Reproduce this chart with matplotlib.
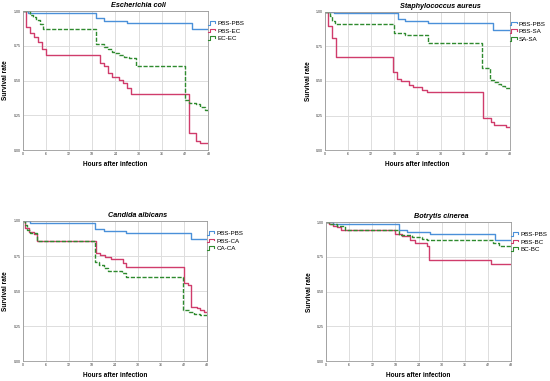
import numpy as np
import matplotlib.pyplot as plt
from matplotlib.legend_handler import HandlerBase
from matplotlib.lines import Line2D

plt.rcParams['font.family'] = ['Liberation Sans', 'DejaVu Sans']

# hours / survival
titles = ["Escherichia coli", "Staphylococcus aureus", "Candida albicans", "Botrytis cinerea"]
labels = [["PBS-PBS", "PBS-EC", "EC-EC"],
          ["PBS-PBS", "PBS-SA", "SA-SA"],
          ["PBS-PBS", "PBS-CA", "CA-CA"],
          ["PBS-PBS", "PBS-BC", "BC-BC"]]

# E. coli
ec_pbs_t = [0, 1.5, 19.0, 21.0, 27.0, 43.8, 48]
ec_pbs_s = [1.0, 0.985, 0.947, 0.93, 0.916, 0.873, 0.873]
ec_red_t = [0, 1.0, 2.0, 3.0, 4.0, 5.0, 6.0, 20.0, 21.0, 22.0, 23.0, 25.0, 26.0, 27.0, 28.0, 43.0, 44.8, 45.8, 48]
ec_red_s = [1.0, 0.887, 0.844, 0.815, 0.78, 0.724, 0.683, 0.628, 0.604, 0.556, 0.523, 0.504, 0.48, 0.444, 0.40, 0.12, 0.065, 0.05, 0.05]
ec_grn_t = [0, 2.0, 2.8, 3.6, 4.4, 5.3, 19.0, 21.0, 22.0, 23.0, 24.0, 25.0, 26.2, 27.5, 29.2, 41.9, 43.1, 44.8, 45.8, 47.0, 48]
ec_grn_s = [1.0, 0.971, 0.954, 0.935, 0.904, 0.868, 0.76, 0.743, 0.724, 0.707, 0.695, 0.683, 0.671, 0.66, 0.608, 0.36, 0.34, 0.33, 0.31, 0.29, 0.278]

# S. aureus
sa_pbs_t = [0, 2.2, 18.9, 20.8, 26.8, 43.7, 48]
sa_pbs_s = [1.0, 0.988, 0.949, 0.932, 0.92, 0.872, 0.872]
sa_red_t = [0, 0.7, 1.9, 2.9, 17.7, 18.6, 19.7, 21.9, 22.9, 25.1, 26.4, 41.0, 43.1, 43.9, 47.1, 48]
sa_red_s = [1.0, 0.90, 0.81, 0.673, 0.562, 0.513, 0.50, 0.472, 0.453, 0.436, 0.419, 0.23, 0.206, 0.182, 0.17, 0.17]
sa_grn_t = [0, 1.3, 1.9, 2.6, 17.9, 20.8, 26.8, 40.8, 42.8, 43.9, 44.8, 45.8, 46.7, 48]
sa_grn_s = [1.0, 0.969, 0.932, 0.915, 0.847, 0.835, 0.775, 0.593, 0.508, 0.496, 0.479, 0.465, 0.448, 0.44]

# C. albicans
ca_pbs_t = [0, 2.0, 18.9, 21.1, 27.0, 43.8, 48]
ca_pbs_s = [1.0, 0.983, 0.94, 0.926, 0.914, 0.871, 0.871]
ca_red_t = [0, 0.7, 1.6, 2.9, 3.7, 19.1, 20.2, 21.3, 23.1, 26.1, 27.0, 41.9, 43.1, 43.8, 45.2, 46.1, 47.1, 48]
ca_red_s = [1.0, 0.952, 0.924, 0.907, 0.857, 0.774, 0.757, 0.745, 0.729, 0.702, 0.669, 0.56, 0.543, 0.388, 0.376, 0.364, 0.352, 0.35]
ca_grn_t = [0, 0.7, 1.1, 2.0, 3.7, 18.9, 19.8, 21.1, 22.1, 25.9, 27.0, 41.8, 43.2, 44.5, 46.1, 48]
ca_grn_s = [1.0, 0.971, 0.936, 0.912, 0.857, 0.71, 0.686, 0.662, 0.645, 0.626, 0.602, 0.364, 0.352, 0.34, 0.33, 0.33]

# B. cinerea
bc_pbs_t = [0, 1.9, 18.9, 20.9, 27.0, 43.9, 48]
bc_pbs_s = [1.0, 0.986, 0.945, 0.928, 0.913, 0.873, 0.873]
bc_red_t = [0, 0.8, 1.9, 2.8, 3.9, 17.9, 19.6, 21.8, 23.1, 26.1, 26.8, 42.8, 48]
bc_red_s = [1.0, 0.986, 0.974, 0.962, 0.94, 0.913, 0.897, 0.873, 0.849, 0.825, 0.728, 0.70, 0.70]
bc_grn_t = [0, 0.8, 2.8, 4.9, 18.9, 22.2, 24.8, 26.1, 43.4, 44.9, 48]
bc_grn_s = [1.0, 0.986, 0.969, 0.94, 0.904, 0.895, 0.88, 0.868, 0.853, 0.825, 0.825]

panels = [
    [(ec_pbs_t, ec_pbs_s), (ec_red_t, ec_red_s), (ec_grn_t, ec_grn_s)],
    [(sa_pbs_t, sa_pbs_s), (sa_red_t, sa_red_s), (sa_grn_t, sa_grn_s)],
    [(ca_pbs_t, ca_pbs_s), (ca_red_t, ca_red_s), (ca_grn_t, ca_grn_s)],
    [(bc_pbs_t, bc_pbs_s), (bc_red_t, bc_red_s), (bc_grn_t, bc_grn_s)],
]

x_ticks = [0, 6, 12, 18, 24, 30, 36, 42, 48]
y_ticks = [0.0, 0.25, 0.5, 0.75, 1.0]

colors = ['#4a90d9', '#d03c6b', '#2e8a2e']
styles = ['-', '-', '--']


class StepHandler(HandlerBase):
    # little step glyph like the SPSS legend
    def create_artists(self, legend, orig, xd, yd, w, h, fs, trans):
        xs = [xd, xd + 0.2 * w, xd + 0.2 * w, xd + 0.85 * w, xd + 0.85 * w]
        ys = [yd + 0.1 * h, yd + 0.1 * h, yd + 0.9 * h, yd + 0.9 * h, yd + 0.55 * h]
        ln = Line2D(xs, ys, color=orig.get_color(), lw=0.8, transform=trans)
        return [ln]


fig = plt.figure(figsize=(5.5, 3.81), dpi=100)
boxes = [[0.041, 0.606, 0.338, 0.365],
         [0.591, 0.606, 0.336, 0.363],
         [0.041, 0.052, 0.336, 0.368],
         [0.593, 0.052, 0.336, 0.365]]

for i in range(4):
    ax = fig.add_axes(boxes[i])
    hs = []
    for j in range(3):
        t, s = panels[i][j]
        h, = ax.step(t, s, where='post', color=colors[j], ls=styles[j], lw=1.0,
                     dashes=(3, 1.2) if j == 2 else (None, None))
        hs.append(h)
    ax.set_xlim(0, 48)
    ax.set_ylim(0, 1)
    ax.set_xticks(x_ticks)
    ax.set_yticks(y_ticks)
    ax.set_yticklabels(["%.2f" % v for v in y_ticks])
    ax.tick_params(length=0, labelsize=2.6, pad=1.5, colors='#333333')
    ax.grid(True, color='#dddddd', lw=0.7)
    ax.set_axisbelow(True)
    for sp in ax.spines.values():
        sp.set_color('#999999')
        sp.set_linewidth(0.6)
    ax.text(0.624, 1.04, titles[i], transform=ax.transAxes, ha='center', va='center',
            fontsize=5.2, fontweight='bold', style='italic')
    ax.text(0.5, -0.105, "Hours after infection", transform=ax.transAxes, ha='center',
            va='center', fontsize=4.7, fontweight='bold')
    ax.text(-0.092, 0.5, "Survival rate", transform=ax.transAxes, ha='center', va='center',
            rotation=90, fontsize=4.7, fontweight='bold')
    ax.legend(hs, labels[i], loc='upper left', bbox_to_anchor=(1.0, 0.93), frameon=False,
              borderaxespad=0, borderpad=0, handlelength=1.3, handletextpad=0.15,
              labelspacing=0.35, fontsize=4.5,
              handler_map={Line2D: StepHandler()})

fig.savefig("out.png", dpi=100)
